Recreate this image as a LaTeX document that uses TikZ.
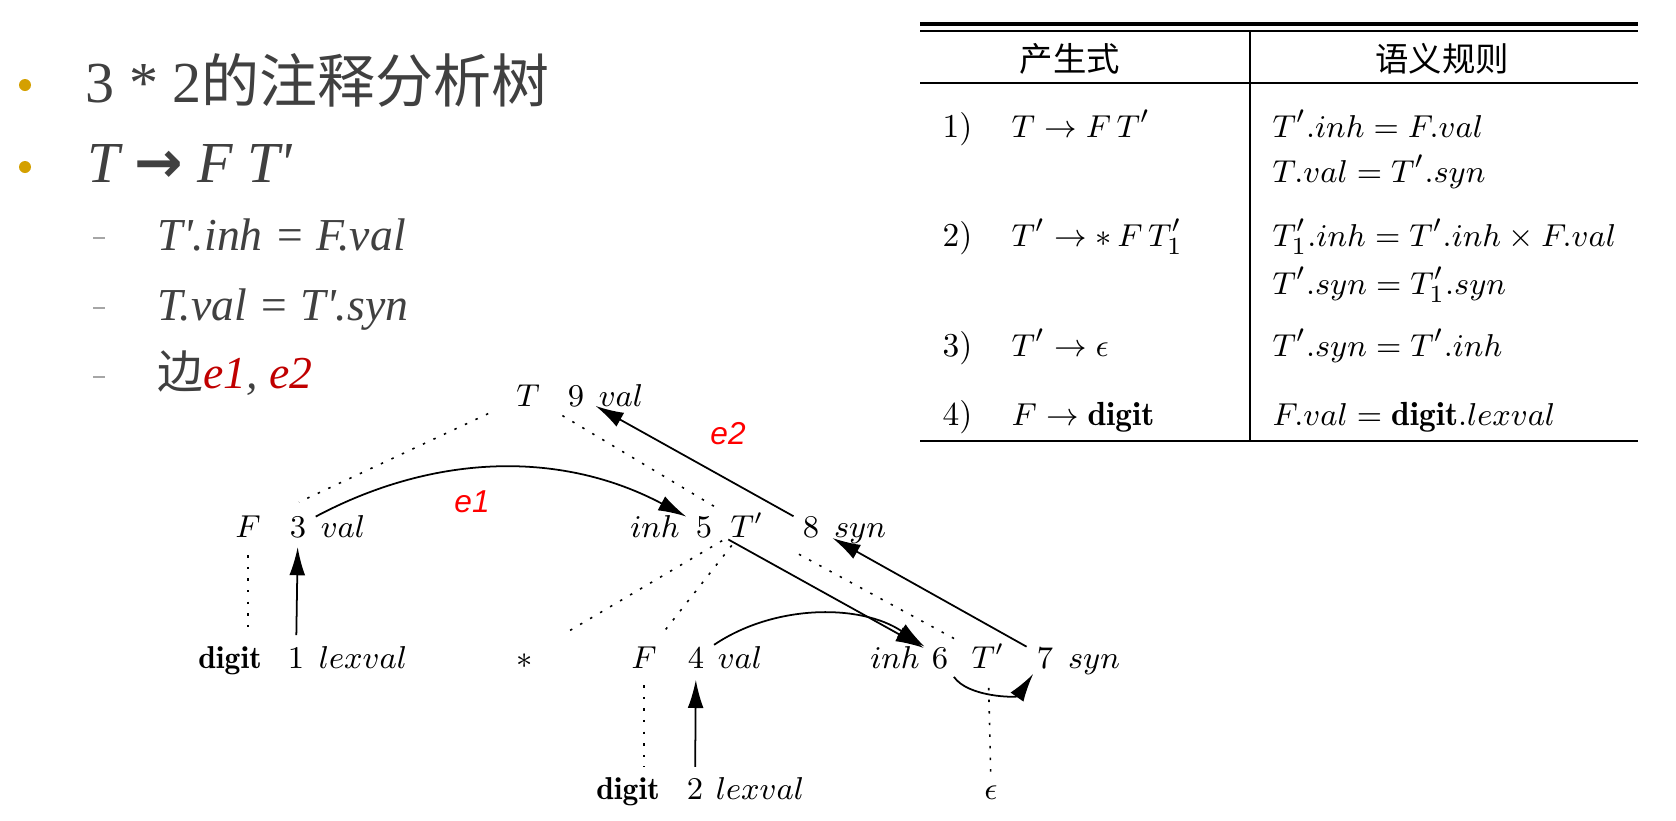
\documentclass[tikz,border=0pt]{standalone}
\usepackage{fontspec}
\usetikzlibrary{arrows.meta}
\newfontfamily\slidefont{Liberation Serif}
\newfontfamily\labelfont{Liberation Sans}
\newfontfamily\cjk{Noto Sans CJK SC}
\newfontfamily\symfont{DejaVu Sans}
\definecolor{bulletgold}{HTML}{D4A000}
\definecolor{slidetext}{HTML}{404040}
\definecolor{dashgray}{HTML}{A6A6A6}
\definecolor{darkred}{HTML}{C00000}
\tikzset{
  tnode/.style={text height=6.8pt,text depth=0pt,inner sep=0pt,font=\fontsize{9}{11}\selectfont},
  treeedge/.style={line width=0.45pt,dash pattern=on 0.7pt off 2.6pt},
  dep/.style={line width=0.5pt,-{Latex[length=8pt,width=4.5pt]}},
  elabel/.style={text=red,inner sep=0pt,font=\fontsize{9}{11}\labelfont\itshape},
  tcell/.style={anchor=base west,inner sep=0pt,font=\fontsize{9.5}{11}\selectfont},
  slideitem/.style={anchor=base west,inner sep=0pt,text=slidetext}
}
\begin{document}
\begin{tikzpicture}[x=0.01cm,y=0.01cm]
  \fill[white] (0,0) rectangle (1676,820);
  \useasboundingbox (0,0) rectangle (1676,820);
  \fill[bulletgold] (25,735) circle (6);
  \fill[bulletgold] (25,653) circle (6);
  \draw[dashgray,line width=0.6pt] (93,582) -- (105,582) (93,512) -- (105,512) (93,443) -- (105,443);
  \node[slideitem,font=\fontsize{16.5}{20}\slidefont] (b1) at (85,718) {3 * 2{\cjk 的注释分析树}};
  \node[slideitem,font=\fontsize{16.5}{20}\slidefont\itshape] (b2) at (87,638) {T {\symfont\upshape\bfseries →} F T'};
  \node[slideitem,font=\fontsize{13}{16}\slidefont\itshape] (s1) at (157,570) {T'.inh = F.val};
  \node[slideitem,font=\fontsize{13}{16}\slidefont\itshape] (s2) at (157,500) {T.val = T'.syn};
  \node[slideitem,font=\fontsize{13}{16}\slidefont\itshape] (s3) at (157,432) {{\cjk\upshape 边}\textcolor{darkred}{e1}, \textcolor{darkred}{e2}};

  \draw[line width=0.9pt] (920,796) -- (1638,796);
  \draw[line width=0.5pt] (920,789) -- (1638,789);
  \draw[line width=0.6pt] (920,737) -- (1638,737);
  \draw[line width=0.8pt] (920,379) -- (1638,379);
  \draw[line width=0.5pt] (1250,789) -- (1250,379);
  \node[inner sep=0pt,font=\fontsize{9.5}{11}\cjk] (h1) at (1070,761) {产生式};
  \node[inner sep=0pt,font=\fontsize{9.5}{11}\cjk] (h2) at (1442,761) {语义规则};
  \node[tcell] (r1) at (942,683) {1)};
  \node[tcell] (p1) at (1011,683) {$T \rightarrow F\,T'$};
  \node[tcell] (q1) at (1272,683) {$T'.inh = F.val$};
  \node[tcell] (q1b) at (1272,638) {$T.val = T'.syn$};
  \node[tcell] (r2) at (942,574) {2)};
  \node[tcell] (p2) at (1011,574) {$T' \rightarrow *\,F\,T_1'$};
  \node[tcell] (q2) at (1272,574) {$T_1'.inh = T'.inh \times F.val$};
  \node[tcell] (q2b) at (1272,526) {$T'.syn = T_1'.syn$};
  \node[tcell] (r3) at (942,464) {3)};
  \node[tcell] (p3) at (1011,464) {$T' \rightarrow \epsilon$};
  \node[tcell] (q3) at (1272,464) {$T'.syn = T'.inh$};
  \node[tcell] (r4) at (942,395) {4)};
  \node[tcell] (p4) at (1011,395) {$F \rightarrow \mathbf{digit}$};
  \node[tcell] (q4) at (1272,395) {$F.val = \mathbf{digit}.lexval$};

  \path[every node/.style=tnode]
    (528,425) node (T){$T$}
    (576,425) node (9){$9$}
    (621,425) node (v9){$val$}
    (248,294) node (F){$F$}
    (298,294) node (3){$3$}
    (343,294) node (v3){$val$}
    (655,294) node (i5){$inh$}
    (704,294) node (5){$5$}
    (747,294) node (Tp){$T'$}
    (811,294) node (8){$8$}
    (860,294) node (s8){$syn$}
    (230,163) node (d1){$\mathbf{digit}$}
    (296,163) node (1){$1$}
    (363,163) node (l1){$lexval$}
    (525,163) node (star){$*$}
    (644,163) node (F2){$F$}
    (696,163) node (4){$4$}
    (740,163) node (v4){$val$}
    (895,163) node (i6){$inh$}
    (940,163) node (6){$6$}
    (988,163) node (Tp2){$T'$}
    (1045,163) node (7){$7$}
    (1094,163) node (s7){$syn$}
    (628,32) node (d2){$\mathbf{digit}$}
    (695,32) node (2){$2$}
    (760,32) node (l2){$lexval$}
    (991,32) node (eps){$\epsilon$};
  \begin{scope}[treeedge]
    \draw[shorten <=12.5pt,shorten >=16pt] (T.center) -- (F.center);
    \draw[shorten <=11.4pt,shorten >=10pt] (T.center) -- (Tp.center);
    \draw[shorten <=8.3pt,shorten >=7pt] (F.center) -- (F.center |- d1.center);
    \draw[shorten <=8.2pt,shorten >=12.8pt] (Tp.center) -- (star.center);
    \draw[shorten <=7pt,shorten >=7.7pt] (Tp.center) -- (F2.center);
    \draw[shorten <=16.8pt,shorten >=10pt] (Tp.center) -- (Tp2.center);
    \draw[shorten <=8pt,shorten >=6pt] (F2.center) -- (F2.center |- d2.center);
    \draw[shorten <=8.8pt,shorten >=4.5pt] (Tp2.center) -- (eps.center);
  \end{scope}
  \begin{scope}[dep]
    \draw[shorten <=6.2pt,shorten >=6pt] (1.center) -- (3.center);
    \draw[shorten <=6pt,shorten >=6.5pt] (2.center) -- (4.center);
    \draw[shorten <=5.7pt,shorten >=5.7pt] (3.center) to[bend left=28] (5.center);
    \draw[shorten <=6.2pt,shorten >=5.3pt] (4.center) to[bend left=34] (6.center);
    \draw[shorten <=7.9pt,shorten >=5.3pt] (5.center) -- (6.center);
    \draw[shorten <=2.5pt,shorten >=1.5pt] (6.south east) to[bend right=55] (7.south west);
    \draw[shorten <=6pt,shorten >=7pt] (7.center) -- (8.center);
    \draw[shorten <=5.7pt,shorten >=6.4pt] (8.center) -- (9.center);
  \end{scope}
  \node[elabel] (e1) at (472,318) {e1};
  \node[elabel] (e2) at (728,386) {e2};
\end{tikzpicture}
\end{document}
